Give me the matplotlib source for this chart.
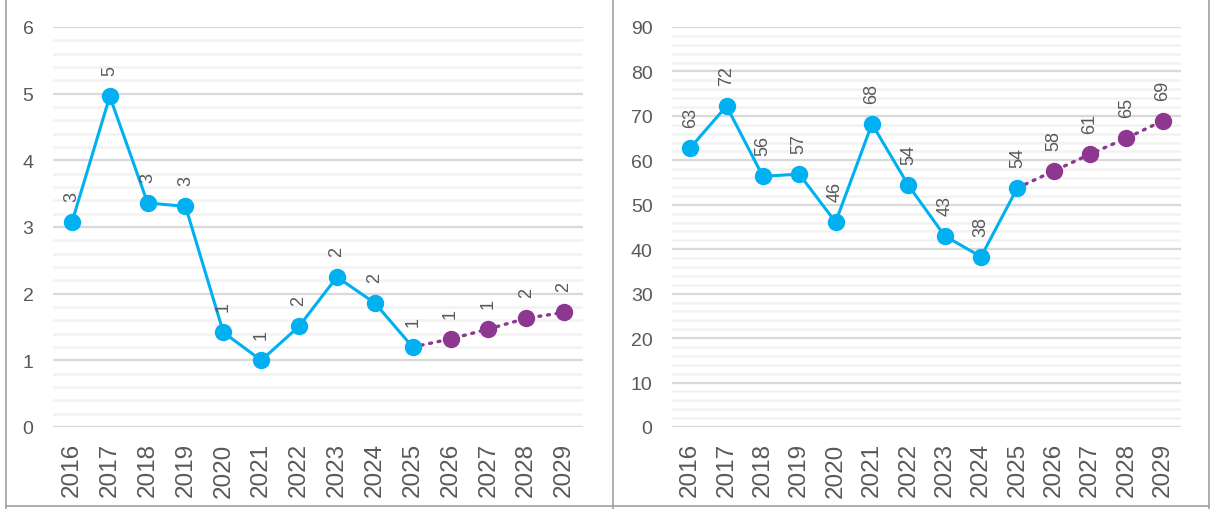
import matplotlib
matplotlib.use("Agg")
import matplotlib.pyplot as plt
from matplotlib.lines import Line2D
import numpy as np

plt.rcParams['font.family'] = ['Liberation Sans', 'DejaVu Sans']

# data
years = ['2016', '2017', '2018', '2019', '2020', '2021', '2022',
         '2023', '2024', '2025', '2026', '2027', '2028', '2029']
left_actual = [3.07, 4.96, 3.36, 3.31, 1.42, 1.0, 1.51, 2.25, 1.86, 1.2]
left_forecast = [1.32, 1.47, 1.63, 1.72]
right_actual = [62.8, 72.2, 56.4, 56.9, 46.1, 68.2, 54.4, 43.0, 38.3, 53.8]
right_forecast = [57.6, 61.4, 65.0, 68.9]

blue = '#00B0F0'
purple = '#8E3790'
txt = '#595959'

W, H = 1211, 510
fig = plt.figure(figsize=(W / 100, H / 100), dpi=100)


def draw_panel(rect, actual, forecast, ymax, major, minor):
    ax = fig.add_axes(rect)
    x = np.arange(len(years))
    na = len(actual)
    # minor and major gridlines
    for v in np.arange(0, ymax + 1e-9, minor):
        is_major = abs(v / major - round(v / major)) < 1e-6
        ax.axhline(v, color='#D9D9D9' if is_major else '#F2F2F2',
                   lw=1.6 if is_major else 1.8, zorder=0)
    ax.plot(x[:na], actual, color=blue, lw=2.2, marker='o', ms=11.5,
            zorder=3)
    fx = x[na - 1:]
    fy = [actual[-1]] + forecast
    ax.plot(fx, fy, color=purple, lw=2.4, ls=(0, (0.6, 2.0)),
            dash_capstyle='round', zorder=2)
    ax.plot(fx[1:], fy[1:], color=purple, lw=0, marker='o', ms=11.5,
            zorder=3)
    for xi, yi in zip(x, list(actual) + list(forecast)):
        ax.annotate(f"{yi:.0f}", (xi, yi), xytext=(0, 15),
                    textcoords='offset points', rotation=90,
                    ha='center', va='bottom', fontsize=13, color=txt)
    ax.set_xlim(-0.5, len(years) - 0.5)
    ax.set_ylim(0, ymax)
    ax.set_xticks(x)
    ax.set_xticklabels(years, rotation=90, fontsize=17.5, color=txt)
    ax.set_yticks(np.arange(0, ymax + 1e-9, major))
    ax.set_yticklabels([f"{v:.0f}" for v in np.arange(0, ymax + 1e-9, major)],
                       fontsize=14, color=txt)
    ax.tick_params(axis='x', length=0, pad=11)
    ax.tick_params(axis='y', length=0, pad=14)
    for s in ax.spines.values():
        s.set_visible(False)
    return ax


draw_panel([53 / W, 82 / H, 530 / W, 400 / H],
           left_actual, left_forecast, 6, 1, 0.2)
draw_panel([672 / W, 82 / H, 509 / W, 400 / H],
           right_actual, right_forecast, 90, 10, 2)

# panel frames
fc = '#A0A0A0'
for xp in [5.5, 613, 1208.5]:
    fig.add_artist(Line2D([xp / W, xp / W], [0, 1], color=fc, lw=1.2,
                          transform=fig.transFigure))
fig.add_artist(Line2D([5.5 / W, 1208.5 / W], [3 / H, 3 / H], color=fc,
                      lw=1.2, transform=fig.transFigure))

fig.savefig('out.png', dpi=100)
